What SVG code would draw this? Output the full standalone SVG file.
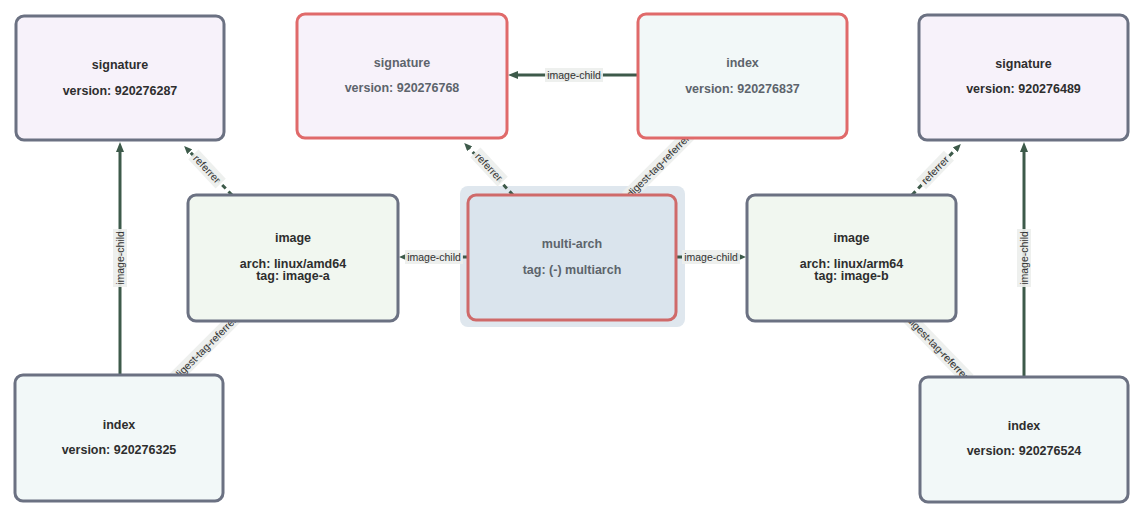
<svg xmlns="http://www.w3.org/2000/svg" width="1142" height="514" viewBox="0 0 1142 514">
<style>
  .node rect.box { stroke-width: 3; }
  .grey { stroke: #6b7182; }
  .red { stroke: #e06a6a; }
  .sig { fill: #f7f2fa; }
  .idx { fill: #f2f8f8; }
  .img { fill: #f1f7f0; }
  .t { font-family: "Liberation Sans", Arial, sans-serif; font-size: 12.5px; font-weight: bold; text-anchor: middle; fill: #2e2e2e; }
  .tg { fill: #5d646c; }
  .edge { fill: none; stroke: #3d5a4a; stroke-width: 3; }
  .dash { stroke-dasharray: 5 4; }
  .lbg { fill: #eceeec; opacity: 0.9; }
  .lt { font-family: "Liberation Sans", Arial, sans-serif; font-size: 10.5px; text-anchor: middle; fill: #333; }
</style>
<defs>
  <marker id="arr" viewBox="0 0 10 8" refX="1" refY="4" markerWidth="10" markerHeight="8" markerUnits="userSpaceOnUse" orient="auto">
    <path d="M0,0 L10,4 L0,8 z" fill="#3d5a4a"/>
  </marker>
  <marker id="arrs" viewBox="0 0 8 7" refX="1" refY="3.5" markerWidth="8" markerHeight="7" markerUnits="userSpaceOnUse" orient="auto">
    <path d="M0,0 L8,3.5 L0,7 z" fill="#3d5a4a"/>
  </marker>
</defs>
<rect width="1142" height="514" fill="#ffffff"/>

<!-- multi-arch group background -->
<rect id="multiarch-bg" x="460" y="186" width="225" height="141" rx="8" fill="#dfe7ee"/>

<g id="connectors">
  <!-- bottom-left index -> top-left signature -->
  <path class="edge" d="M120,375 L120,151" marker-end="url(#arr)"/>
  <g transform="translate(120,258) rotate(-90)"><rect class="lbg" x="-29" y="-7" width="58" height="14"/><text class="lt" y="3.7">image-child</text></g>
  <!-- bottom-right index -> top-right signature -->
  <path class="edge" d="M1024,377 L1024,151" marker-end="url(#arr)"/>
  <g transform="translate(1024,258) rotate(-90)"><rect class="lbg" x="-29" y="-7" width="58" height="14"/><text class="lt" y="3.7">image-child</text></g>
  <!-- top index -> top signature -->
  <path class="edge" d="M638,75 L517,75" marker-end="url(#arr)"/>
  <g transform="translate(574,75)"><rect class="lbg" x="-29" y="-7" width="58" height="14"/><text class="lt" y="3.7">image-child</text></g>
  <!-- left image -> top-left signature referrer -->
  <path class="edge dash" d="M232,195 L189,151" marker-end="url(#arrs)"/>
  <g transform="translate(207,169) rotate(47)"><rect class="lbg" x="-20" y="-7" width="40" height="14"/><text class="lt" y="3.7">referrer</text></g>
  <!-- multi-arch -> top signature referrer -->
  <path class="edge dash" d="M513,195 L469,148" marker-end="url(#arrs)"/>
  <g transform="translate(489,167) rotate(47)"><rect class="lbg" x="-20" y="-7" width="40" height="14"/><text class="lt" y="3.7">referrer</text></g>
  <!-- right image -> top-right signature referrer -->
  <path class="edge dash" d="M912,195 L956,149" marker-end="url(#arrs)"/>
  <g transform="translate(935,170) rotate(-46)"><rect class="lbg" x="-20" y="-7" width="40" height="14"/><text class="lt" y="3.7">referrer</text></g>
  <!-- top index -> multi-arch digest-tag-referrer -->
  <path class="edge" d="M688,138 L628,194"/>
  <g transform="translate(658,166) rotate(-45)"><rect class="lbg" x="-44" y="-7" width="88" height="14"/><text class="lt" y="3.7">digest-tag-referrer</text></g>
  <!-- bottom-left index -> left image digest-tag-referrer -->
  <path class="edge" d="M177,375 L233,321"/>
  <g transform="translate(205,348) rotate(-45)"><rect class="lbg" x="-44" y="-7" width="88" height="14"/><text class="lt" y="3.7">digest-tag-referrer</text></g>
  <!-- bottom-right index -> right image digest-tag-referrer -->
  <path class="edge" d="M966,377 L910,321"/>
  <g transform="translate(938,348) rotate(46)"><rect class="lbg" x="-44" y="-7" width="88" height="14"/><text class="lt" y="3.7">digest-tag-referrer</text></g>
  <!-- multi-arch -> left image -->
  <path class="edge dash" d="M467,257 L406,257" marker-end="url(#arrs)"/>
  <g transform="translate(434,257)"><rect class="lbg" x="-29" y="-7" width="58" height="14"/><text class="lt" y="3.7">image-child</text></g>
  <!-- multi-arch -> right image -->
  <path class="edge dash" d="M677,257 L739,257" marker-end="url(#arrs)"/>
  <g transform="translate(711,257)"><rect class="lbg" x="-29" y="-7" width="58" height="14"/><text class="lt" y="3.7">image-child</text></g>
</g>

<g id="sig-left" class="node">
  <rect class="box grey sig" x="16" y="16" width="208" height="124" rx="8"/>
  <text class="t" x="120" y="69">signature</text>
  <text class="t" x="120" y="94.5">version: 920276287</text>
</g>
<g id="sig-center" class="node">
  <rect class="box red sig" x="297" y="14" width="210" height="124" rx="8"/>
  <text class="t tg" x="402" y="67">signature</text>
  <text class="t tg" x="402" y="92">version: 920276768</text>
</g>
<g id="index-top" class="node">
  <rect class="box red idx" x="638" y="14" width="209" height="124" rx="8"/>
  <text class="t tg" x="742.5" y="67">index</text>
  <text class="t tg" x="742.5" y="92.5">version: 920276837</text>
</g>
<g id="sig-right" class="node">
  <rect class="box grey sig" x="919" y="15" width="209" height="125" rx="8"/>
  <text class="t" x="1023.5" y="68">signature</text>
  <text class="t" x="1023.5" y="93">version: 920276489</text>
</g>
<g id="multi-arch" class="node">
  <rect class="box" x="468" y="195" width="208" height="125" rx="8" fill="#dae4ed" stroke="#cf6a6a" stroke-width="3.5"/>
  <text class="t tg" x="572" y="248">multi-arch</text>
  <text class="t tg" x="572" y="273.5">tag: (-) multiarch</text>
</g>
<g id="image-a" class="node">
  <rect class="box grey img" x="188" y="195" width="210" height="126" rx="8"/>
  <text class="t" x="293" y="242">image</text>
  <text class="t" x="293" y="267.5">arch: linux/amd64</text>
  <text class="t" x="293" y="280">tag: image-a</text>
</g>
<g id="image-b" class="node">
  <rect class="box grey img" x="747" y="195" width="209" height="126" rx="8"/>
  <text class="t" x="851.5" y="242">image</text>
  <text class="t" x="851.5" y="267.5">arch: linux/arm64</text>
  <text class="t" x="851.5" y="280">tag: image-b</text>
</g>
<g id="index-left" class="node">
  <rect class="box grey idx" x="15" y="375" width="208" height="126" rx="8"/>
  <text class="t" x="119" y="428.5">index</text>
  <text class="t" x="119" y="453.5">version: 920276325</text>
</g>
<g id="index-right" class="node">
  <rect class="box grey idx" x="920" y="377" width="208" height="125" rx="8"/>
  <text class="t" x="1024" y="429.5">index</text>
  <text class="t" x="1024" y="454.5">version: 920276524</text>
</g>
</svg>
